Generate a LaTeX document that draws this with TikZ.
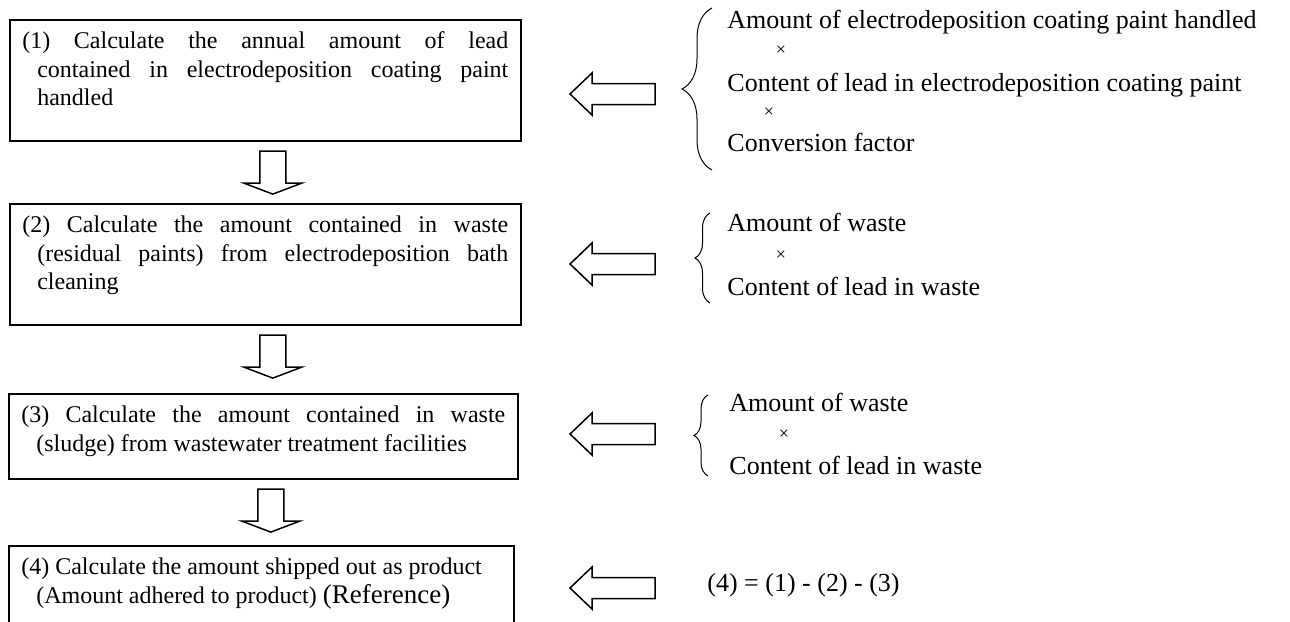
\documentclass[tikz,border=0pt]{standalone}
\usepackage{fontspec}
\setmainfont{Liberation Serif}
\usetikzlibrary{calc,decorations.pathreplacing}
\newcommand{\boxfont}{\fontsize{12pt}{14.25pt}\selectfont}
\newcommand{\sidefont}{\fontsize{13pt}{15pt}\selectfont}
\newcommand{\crossfont}{\fontsize{9pt}{9pt}\selectfont}
\newcommand{\calctext}[3]{\parbox[c][#2][t]{#1}{\boxfont
  \spaceskip=0.25em plus 2em minus 0.05em\tolerance=10000
  \hangindent=7.5pt\hangafter=1\rule{0pt}{14.5pt}#3}}
\tikzset{
  calcbox/.style={draw,line width=0.8pt,anchor=north west,inner xsep=6.25pt,inner ysep=0pt},
  blockline/.style={draw,line width=0.75pt,line join=miter},
  sidetext/.style={anchor=base west,inner sep=0pt,font=\sidefont},
  crossmark/.style={inner sep=0pt,font=\crossfont},
  curly/.style={decorate,decoration={brace,amplitude=#1},line width=0.5pt}
}

\begin{document}
\begin{tikzpicture}[x=0.5pt,y=-0.5pt]
  \useasboundingbox (0,0) rectangle (1290,621);
  % calculation steps
  \node[calcbox] (b1) at (9,19) {\calctext{243pt}{60.5pt}{(1) Calculate the annual amount of lead\linebreak
    contained in electrodeposition coating paint\linebreak handled}};
  \node[calcbox] (b2) at (9,203) {\calctext{243pt}{60.5pt}{(2) Calculate the amount contained in waste\linebreak
    (residual paints) from electrodeposition bath\linebreak cleaning}};
  \node[calcbox] (b3) at (8,393) {\calctext{242pt}{42.5pt}{(3) Calculate the amount contained in waste\linebreak
    (sludge) from wastewater treatment facilities}};
  \node[calcbox] (b4) at (8,545) {\calctext{240pt}{39pt}{(4) Calculate the amount shipped out as product\\
    (Amount adhered to product) {\fontsize{13.5pt}{14.5pt}\selectfont(Reference)}}};
  % hollow arrows between the steps
  \foreach \b in {b1,b2,b3}
    \draw[blockline] ($(\b.south)+(-5.5,9.5)$) -- ++(26,0) -- ++(0,32) -- ++(16,0)
      -- ++(-29,11) -- ++(-29,-11) -- ++(16,0) -- cycle;
  \foreach \y in {94,264,434,588}
    \draw[blockline] (570,\y) -- ++(22,-21) -- ++(0,10.5) -- ++(63,0) -- ++(0,21)
      -- ++(-63,0) -- ++(0,10.5) -- cycle;
  % inputs for (1)
  \draw[curly=15pt] (712,170) -- (712,8);
  \node[sidetext] (s1a) at (727,28) {Amount of electrodeposition coating paint handled};
  \node[crossmark] (s1x) at (781,51) {×};
  \node[sidetext] (s1b) at (727,91) {Content of lead in electrodeposition coating paint};
  \node[crossmark] (s1y) at (769,113) {×};
  \node[sidetext] (s1c) at (727,151) {Conversion factor};
  % inputs for (2)
  \draw[curly=7.5pt] (710,303) -- (710,213);
  \node[sidetext] (s2a) at (727,231) {Amount of waste};
  \node[crossmark] (s2x) at (781,256) {×};
  \node[sidetext] (s2b) at (727,295) {Content of lead in waste};
  % inputs for (3)
  \draw[curly=7pt] (708,476) -- (708,395);
  \node[sidetext] (s3a) at (729,411) {Amount of waste};
  \node[crossmark] (s3x) at (784,435) {×};
  \node[sidetext] (s3b) at (729,474) {Content of lead in waste};
  % result
  \node[sidetext] (f4) at (707,591) {(4) = (1) - (2) - (3)};
\end{tikzpicture}
\end{document}
